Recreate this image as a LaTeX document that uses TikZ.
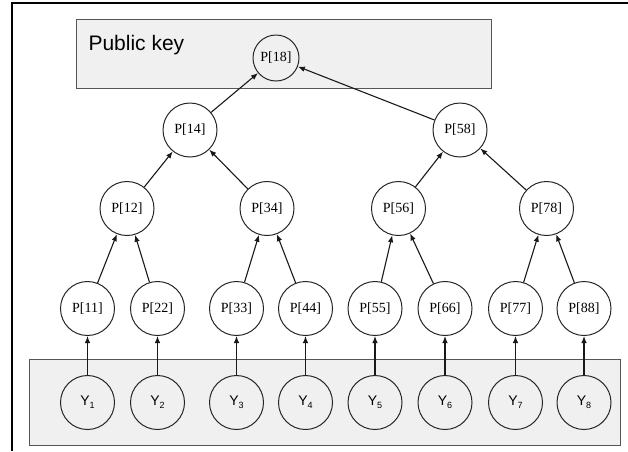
\documentclass[tikz,border=0pt]{standalone}
\usepackage{fontspec}
\setmainfont{Liberation Serif}
\setsansfont{Liberation Sans}
\usetikzlibrary{arrows, arrows.meta}
\definecolor{panelgray}{HTML}{F0F0F0}
\definecolor{rimgray}{HTML}{555555}
\newcommand\keyPart[1]{P[#1]}
\newcommand\seedY[1]{Y\raisebox{-0.45ex}{\fontsize{9}{9}\selectfont #1}}

\begin{document}
\begin{tikzpicture}[x=1pt,y=-1pt]
    \tikzset{
      pnode/.style={
        circle,
        draw=black!85,
        line width=1pt,
        inner sep=0pt,
        minimum size=54pt,
        font=\fontsize{14}{14}\selectfont,
      },
      ynode/.style={
        pnode,
        font=\sffamily\fontsize{14}{14}\selectfont,
      },
      up/.style={
        -{Latex[length=7pt,width=5.5pt]},
        draw=black!90,
        line width=1.1pt,
      }
    }
    \tikzstyle{panel} = [draw=rimgray, fill=panelgray, line width=1pt]

    \useasboundingbox (0,0) rectangle (628,451);

    % outer frame (table cell)
    \draw[line width=2pt] (12,451) -- (12,3) -- (628,3);

    % shaded panels
    \draw[panel] (76,19) rectangle (491,88);
    \draw[panel] (29,359) rectangle (620,445);
    \node[anchor=base west, font=\sffamily\fontsize{21}{21}\selectfont] (pk) at (85,50) {Public key};

    % tree of key parts
    \node[pnode, minimum size=46pt] (p18) at (276,58)    {\keyPart{18}};
    \node[pnode] (p14) at (190,130)   {\keyPart{14}};
    \node[pnode] (p58) at (460,130)   {\keyPart{58}};
    \node[pnode] (p12) at (127,208.5) {\keyPart{12}};
    \node[pnode] (p34) at (267,208.5) {\keyPart{34}};
    \node[pnode] (p56) at (398.5,208.5) {\keyPart{56}};
    \node[pnode] (p78) at (546.5,208.5) {\keyPart{78}};
    \node[pnode] (p11) at (87.5,308.5)  {\keyPart{11}};
    \node[pnode] (p22) at (157.5,308.5) {\keyPart{22}};
    \node[pnode] (p33) at (236.5,308.5) {\keyPart{33}};
    \node[pnode] (p44) at (305.5,308.5) {\keyPart{44}};
    \node[pnode] (p55) at (375,308.5)   {\keyPart{55}};
    \node[pnode] (p66) at (445,308.5)   {\keyPart{66}};
    \node[pnode] (p77) at (515.5,308.5) {\keyPart{77}};
    \node[pnode] (p88) at (584,308.5)   {\keyPart{88}};

    % secret values
    \node[ynode] (y1) at (87.5,402.5)  {\seedY{1}};
    \node[ynode] (y2) at (157.5,402.5) {\seedY{2}};
    \node[ynode] (y3) at (236.5,402.5) {\seedY{3}};
    \node[ynode] (y4) at (305.5,402.5) {\seedY{4}};
    \node[ynode] (y5) at (375,402.5)   {\seedY{5}};
    \node[ynode] (y6) at (445,402.5)   {\seedY{6}};
    \node[ynode] (y7) at (515.5,402.5) {\seedY{7}};
    \node[ynode] (y8) at (584,402.5)   {\seedY{8}};

    \path[every edge/.style=up]
        (y1) edge (p11)
        (y2) edge (p22)
        (y3) edge (p33)
        (y4) edge (p44)
        (y5) edge (p55)
        (y6) edge (p66)
        (y7) edge (p77)
        (y8) edge (p88)

        (p11) edge (p12)
        (p22) edge (p12)
        (p33) edge (p34)
        (p44) edge (p34)
        (p55) edge (p56)
        (p66) edge (p56)
        (p77) edge (p78)
        (p88) edge (p78)

        (p12) edge (p14)
        (p34) edge (p14)
        (p56) edge (p58)
        (p78) edge (p58)

        (p14) edge (p18)
        (p58) edge (p18);
\end{tikzpicture}
\end{document}
